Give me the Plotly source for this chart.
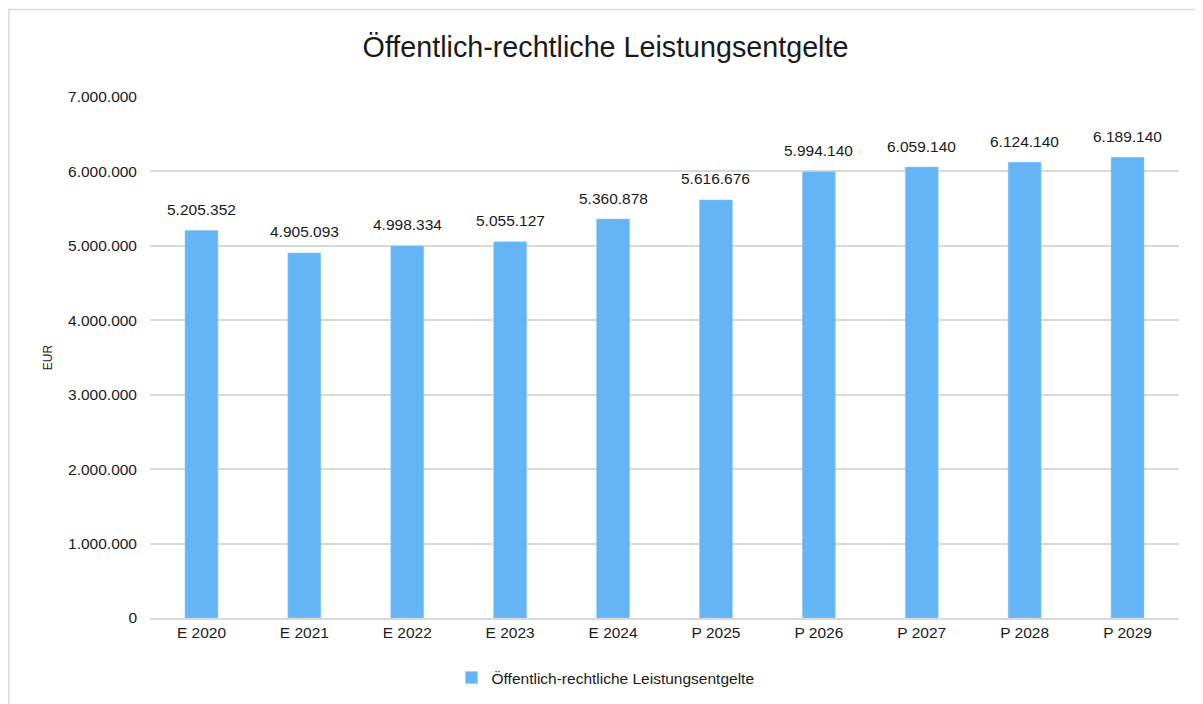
import plotly.graph_objects as go

categories = ["E 2020", "E 2021", "E 2022", "E 2023", "E 2024",
              "P 2025", "P 2026", "P 2027", "P 2028", "P 2029"]
values = [5205352, 4905093, 4998334, 5055127, 5360878,
          5616676, 5994140, 6059140, 6124140, 6189140]
series_name = "Öffentlich-rechtliche Leistungsentgelte"
y_ticks = [0, 1000000, 2000000, 3000000, 4000000, 5000000, 6000000, 7000000]

FONT = "Liberation Sans, Arial, sans-serif"
# page body has an 8px margin, so the figure is sized to the visible area
W, H = 1195, 696
L, R, T, B = 142, 24, 89, 86

fig = go.Figure()
fig.add_trace(
    go.Bar(
        x=categories, y=values, name=series_name,
        marker_color="#64B5F6",
        marker_line={"color": "#8cc8f8", "width": 0.5},
        width=0.32,
        hovertemplate="%{x}: %{y:,d}<extra></extra>",
    )
)

# data labels sit a bit higher above the bars than plotly's outside text
for cat, val in zip(categories, values):
    fig.add_annotation(
        x=cat, y=val, text=f"{val:,}".replace(",", "."),
        showarrow=False, yanchor="middle", yshift=21,
        font={"size": 15.5, "color": "#1a1a1a"},
    )

# chart border (only top and left edges are visible in the frame)
pw, ph = W - L - R, H - T - B
px = lambda v: (v - L) / pw
py = lambda v: (H - B - v) / ph
fig.add_shape(type="line", xref="paper", yref="paper",
              x0=px(0), x1=px(W + 5), y0=py(1.5), y1=py(1.5),
              line={"color": "#d9d9d9", "width": 1.5})
fig.add_shape(type="line", xref="paper", yref="paper",
              x0=px(0.8), x1=px(0.8), y0=py(1), y1=py(H + 5),
              line={"color": "#d9d9d9", "width": 1.5})

fig.update_layout(
    width=W, height=H,
    margin={"l": L, "r": R, "t": T, "b": B},
    paper_bgcolor="white", plot_bgcolor="white",
    separators=",.",
    font={"family": FONT, "color": "#1a1a1a"},
    title={"text": series_name, "x": 0.5, "xanchor": "center",
           "y": 1 - 39 / H, "yanchor": "middle",
           "font": {"size": 28.7, "color": "#1a1a1a"}},
    showlegend=True,
    legend={"orientation": "h", "x": 0.5, "xanchor": "center", "xref": "container",
            "y": 1 - 670 / H, "yanchor": "middle", "yref": "container",
            "font": {"size": 15.5}, "itemwidth": 30},
    xaxis={"tickfont": {"size": 15.5}, "showline": True, "linecolor": "#d9d9d9",
           "linewidth": 1.5, "ticks": "", "showgrid": False},
    yaxis={"range": [0, 7000000], "tickvals": y_ticks, "tickformat": ",d",
           "tickfont": {"size": 15.5}, "showgrid": True, "gridcolor": "#d9d9d9",
           "gridwidth": 1.5, "zeroline": False, "ticks": "",
           "ticklabelstandoff": 12,
           "title": {"text": "EUR", "font": {"size": 12}, "standoff": 12}},
)

fig.write_html("out.html")
